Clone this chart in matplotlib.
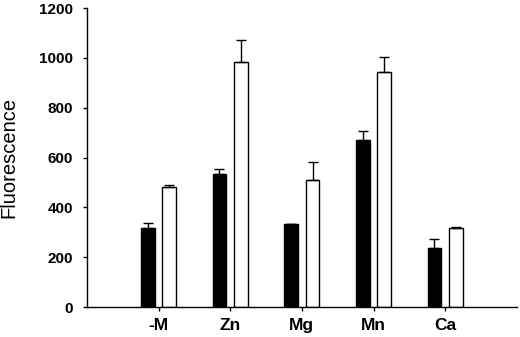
import matplotlib
matplotlib.use("Agg")
import matplotlib.pyplot as plt
import numpy as np

categories = ["-M", "Zn", "Mg", "Mn", "Ca"]
black_vals = [317, 534, 333, 670, 237]
black_err = [20, 20, 0, 36, 36]
white_vals = [483, 983, 510, 943, 317]
white_err = [6, 88, 72, 60, 3]
yticks = [0, 200, 400, 600, 800, 1000, 1200]

plt.rcParams['font.family'] = ['Liberation Sans', 'DejaVu Sans']

fig = plt.figure(figsize=(5.2, 3.37), dpi=100)
ax = fig.add_axes([0.167, 0.089, 0.827, 0.887])

x = np.arange(1, len(categories) + 1)
w = 0.19
off = 0.15
ax.bar(x - off, black_vals, width=w, color='black', edgecolor='black', linewidth=1,
       yerr=[np.zeros(len(black_err)), black_err], capsize=3.5,
       error_kw=dict(ecolor='black', elinewidth=1, capthick=1))
ax.bar(x + off, white_vals, width=w, color='white', edgecolor='black', linewidth=1,
       yerr=[np.zeros(len(white_err)), white_err], capsize=3.5,
       error_kw=dict(ecolor='black', elinewidth=1, capthick=1))

ax.set_xlim(0, 6)
ax.set_ylim(0, 1200)
ax.set_xticks(x)
ax.set_xticklabels(categories, fontsize=12.5, fontweight='bold')
ax.set_yticks(yticks)
ax.set_yticklabels([str(v) for v in yticks], fontsize=11, fontweight='bold')
ax.tick_params(axis='both', direction='out', length=3, width=1)
ax.tick_params(axis='x', pad=5)
ax.tick_params(axis='y', pad=7)
ax.spines['top'].set_visible(False)
ax.spines['right'].set_visible(False)
ax.spines['left'].set_linewidth(1)
ax.spines['bottom'].set_linewidth(1)
ax.set_ylabel("Fluorescence", fontsize=14.5, labelpad=15)

fig.savefig("out.png", dpi=100)
